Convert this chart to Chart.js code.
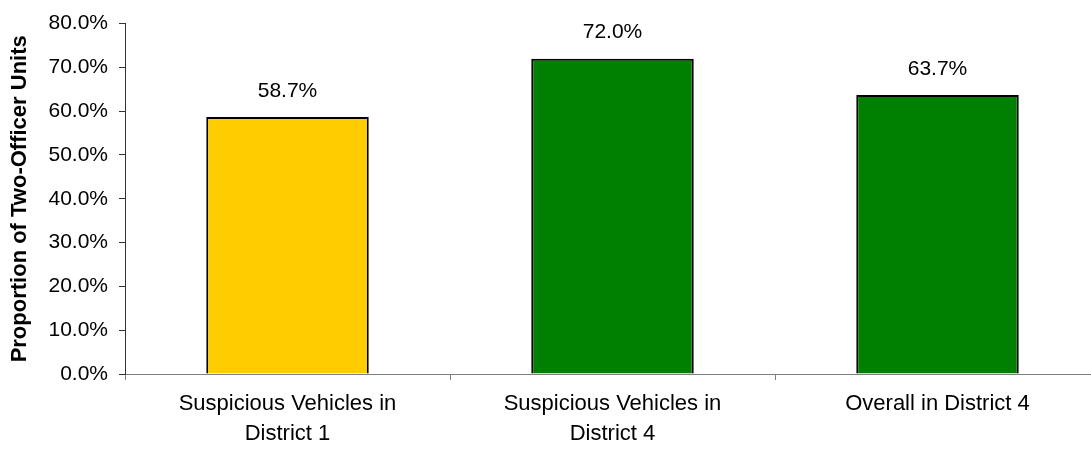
<!DOCTYPE html>
<html lang="en">
<head>
    <meta charset="UTF-8">
    <title>Proportion of Two-Officer Units</title>
    <script src="https://cdn.jsdelivr.net/npm/chart.js"></script>
    <style>
        html, body { margin: 0; padding: 0; background: #fff; overflow: hidden; }
    </style>
</head>
<body>
    <canvas id="unitsChart" width="1100" height="449"></canvas>
    <script>
        const categories = [
            ['Suspicious Vehicles in', 'District 1'],
            ['Suspicious Vehicles in', 'District 4'],
            'Overall in District 4'
        ];
        const proportions = [58.7, 72.0, 63.7];
        const barColors = ['#FFCC00', '#008000', '#008000'];
        const yAxisTitle = 'Proportion of Two-Officer Units';

        const fontFamily = '"Liberation Sans", Arial, sans-serif';

        // value labels above the bars
        const barLabels = {
            id: 'barLabels',
            afterDatasetsDraw(chart) {
                const ctx = chart.ctx;
                const meta = chart.getDatasetMeta(0);
                ctx.save();
                ctx.font = '21px ' + fontFamily;
                ctx.fillStyle = '#000';
                ctx.textAlign = 'center';
                ctx.textBaseline = 'middle';
                meta.data.forEach((bar, i) => {
                    ctx.fillText(proportions[i].toFixed(1) + '%', bar.x, bar.y - 26);
                });
                ctx.restore();
            }
        };

        new Chart(document.getElementById('unitsChart'), {
            type: 'bar',
            data: {
                labels: categories,
                datasets: [{
                    data: proportions,
                    backgroundColor: barColors,
                    borderColor: '#000',
                    borderWidth: 2,
                    categoryPercentage: 1,
                    barPercentage: 0.5
                }]
            },
            options: {
                responsive: false,
                animation: false,
                layout: { padding: { top: 21, right: 0, left: 0, bottom: 0 } },
                plugins: {
                    legend: { display: false },
                    tooltip: { enabled: false }
                },
                scales: {
                    x: {
                        afterFit: (scale) => { scale.height = 75; },
                        grid: {
                            offset: true,
                            drawOnChartArea: false,
                            drawTicks: true,
                            tickLength: 6,
                            color: '#808080'
                        },
                        border: { display: true, color: '#808080', width: 1 },
                        ticks: {
                            color: '#000',
                            padding: 9,
                            maxRotation: 0,
                            autoSkip: false,
                            font: { family: fontFamily, size: 22, lineHeight: 1.36 }
                        }
                    },
                    y: {
                        min: 0,
                        max: 80,
                        afterFit: (scale) => { scale.width = 125; },
                        grid: {
                            drawOnChartArea: false,
                            drawTicks: true,
                            tickLength: 6,
                            color: '#333'
                        },
                        border: { display: true, color: '#333', width: 1 },
                        ticks: {
                            stepSize: 10,
                            color: '#000',
                            padding: 11,
                            font: { family: fontFamily, size: 21 },
                            callback: (v) => v.toFixed(1) + '%'
                        },
                        title: {
                            display: true,
                            text: yAxisTitle,
                            color: '#000',
                            padding: { top: 7, bottom: 0 },
                            font: { family: fontFamily, size: 22, weight: 'bold' }
                        }
                    }
                }
            },
            plugins: [barLabels]
        });
    </script>
</body>
</html>
